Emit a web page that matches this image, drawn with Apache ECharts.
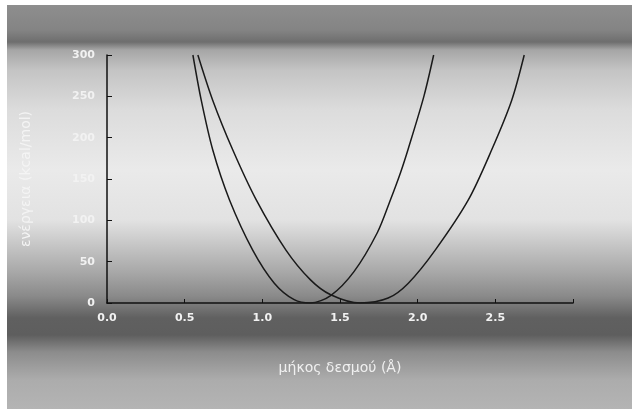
<!DOCTYPE html>
<html><head><meta charset="utf-8">
<script src="https://cdn.jsdelivr.net/npm/echarts@6/dist/echarts.min.js"></script>
<style>html,body{margin:0;padding:0;background:#fff}#c{width:637px;height:409px}</style>
</head><body><div id="c"></div>
<script>
// Data
const xTicks = ['0.0','0.5','1.0','1.5','2.0','2.5'];
const yTicks = [0,50,100,150,200,250,300];
const curveA_x = [0.553,0.607,0.681,0.788,0.938,1.077,1.205,1.31,1.44,1.59,1.74,1.825,1.89,1.94,2.04,2.103];
const curveA_y = [300,245,185,125,64,24,4,0,9,38,85,125,158,187,250,300];
const curveB_x = [0.585,0.681,0.81,0.96,1.152,1.31,1.44,1.63,1.81,1.94,2.113,2.327,2.476,2.605,2.686];
const curveB_y = [300,245,185,125,64,28,10,0,6,24,64,125,185,245,300];
const xTitle = 'μήκος δεσμού (Å)';
const yTitle = 'ενέργεια (kcal/mol)';

const pair = (xs, ys) => xs.map((x,i)=>[x, ys[i]]);
const chart = echarts.init(document.getElementById('c'), null, {renderer:'canvas'});
const stop = (y,c)=>({offset:(y-5)/404, color:c});
const labelStyle = {color:'#f2f2f2', fontSize:11, fontWeight:'bold', fontFamily:'DejaVu Sans'};
chart.setOption({
  animation:false,
  backgroundColor:'#ffffff',
  graphic:[{type:'rect', z:-10, silent:true, shape:{x:7,y:5,width:625,height:404},
    style:{fill:new echarts.graphic.LinearGradient(0,0,0,1,[
      stop(5,'#8e8e8e'), stop(30,'#848484'), stop(42,'#6e6e6e'), stop(50,'#a6a6a6'),
      stop(70,'#c4c4c4'), stop(110,'#dcdcdc'), stop(170,'#eaeaea'), stop(220,'#e2e2e2'),
      stop(245,'#c6c6c6'), stop(272,'#a8a8a8'), stop(296,'#8a8a8a'), stop(318,'#606060'),
      stop(335,'#5e5e5e'), stop(352,'#8c8c8c'), stop(380,'#acacac'), stop(409,'#b4b4b4')])}}],
  grid:{left:107, right:64, top:55, bottom:106, containLabel:false},
  xAxis:{type:'value', min:0, max:3, interval:0.5,
    name:xTitle, nameLocation:'middle', nameGap:58,
    nameTextStyle:{color:'#f0f0f0', fontSize:14, fontFamily:'DejaVu Sans'},
    axisLine:{show:true, lineStyle:{color:'#111', width:1.5}},
    axisTick:{show:true, inside:true, length:4, lineStyle:{color:'#111'}},
    splitLine:{show:false},
    axisLabel:Object.assign({margin:10, formatter:(v)=>{const i=Math.round(v/0.5);return xTicks[i]||'';}}, labelStyle)},
  yAxis:{type:'value', min:0, max:300, interval:50,
    name:yTitle, nameLocation:'middle', nameGap:74, nameRotate:90,
    nameTextStyle:{color:'#f4f4f4', fontSize:14, fontFamily:'DejaVu Sans'},
    axisLine:{show:true, lineStyle:{color:'#111', width:1.5}},
    axisTick:{show:true, inside:true, length:5, lineStyle:{color:'#111'}},
    splitLine:{show:false},
    axisLabel:Object.assign({margin:12, formatter:(v)=> yTicks.includes(v)? String(v):''}, labelStyle)},
  series:[
    {type:'line', data:pair(curveA_x,curveA_y), smooth:0.3, symbol:'none', lineStyle:{color:'#1a1a1a', width:1.5}},
    {type:'line', data:pair(curveB_x,curveB_y), smooth:0.3, symbol:'none', lineStyle:{color:'#1a1a1a', width:1.5}}
  ]
});
</script></body></html>
